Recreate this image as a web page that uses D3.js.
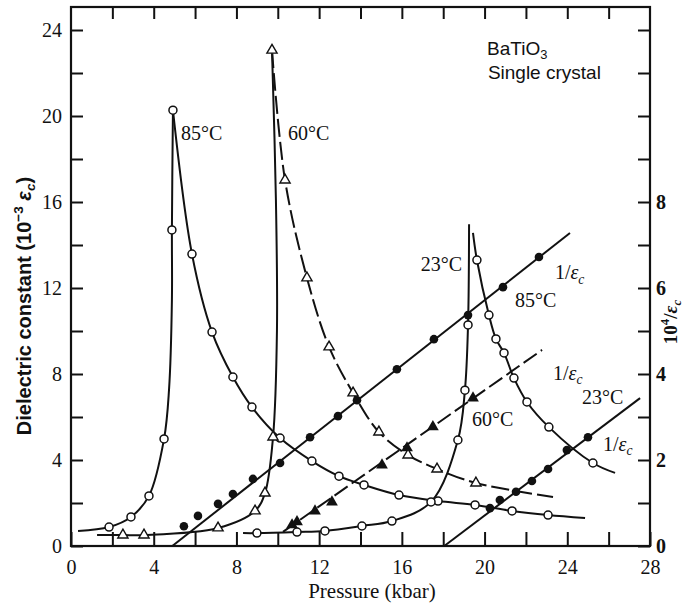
<!DOCTYPE html>
<html>
<head>
<meta charset="utf-8">
<script src="https://cdn.jsdelivr.net/npm/d3@7"></script>
<style>
  body { margin: 0; background: #fff; }
  svg { display: block; }
  text { fill: #111; }
  .serif { font-family: "Liberation Serif", "DejaVu Serif", serif; }
  .sans { font-family: "Liberation Sans", Arial, sans-serif; }
</style>
</head>
<body>
<svg width="684" height="605"></svg>
<script>
// pressure (kbar), dielectric constant (10^-3 eps_c), flag: 1 = measured point with marker
var eps85Up = [[0.34,0.70,0],[1.84,0.88,1],[2.90,1.35,1],[3.77,2.33,1],[4.50,4.98,1],[4.74,7.26,0],[4.88,11.44,0],[4.88,14.7,1],[4.93,20.27,1]];
var eps85Down = [[4.93,20.27,0],[5.85,13.58,1],[6.82,9.95,1],[7.83,7.86,1],[8.75,6.46,1],[10.11,5.02,1],[11.65,3.95,1],[12.96,3.25,1],[14.17,2.84,1],[15.86,2.37,1],[17.75,2.09,1],[19.54,1.91,1],[21.33,1.63,1],[23.07,1.44,1],[24.86,1.30,0]];
var eps60Up = [[1.26,0.51,0],[2.51,0.51,1],[3.53,0.51,1],[7.11,0.84,1],[8.90,1.63,1],[9.38,2.46,1],[9.77,5.07,1],[9.96,10.04,0],[9.91,16.09,0],[9.72,23.06,1]];
var eps60Down = [[9.72,23.06,0],[10.35,17.02,1],[11.41,12.47,1],[12.48,9.26,1],[13.64,7.12,1],[14.89,5.30,1],[16.30,4.23,1],[17.70,3.58,1],[19.58,2.93,1],[23.31,2.28,0]];
var eps23Up = [[8.32,0.60,0],[8.99,0.60,1],[10.93,0.65,1],[12.28,0.70,1],[14.07,0.93,1],[15.52,1.16,1],[17.41,2.05,1],[18.71,4.93,1],[19.05,7.25,1],[19.20,10.28,1],[19.25,14.97,0]];
var eps23Down = [[19.44,14.56,0],[19.63,13.3,1],[20.21,10.74,1],[20.55,9.63,1],[20.94,8.98,1],[21.42,7.81,1],[22.05,6.70,1],[23.11,5.53,1],[25.24,3.86,1],[26.31,3.40,0]];

// reciprocal 10^4/eps_c (right axis): straight fits and measured points
var inv85Fit = [[4.90,0],[24.13,7.28]];
var inv85 = [[5.46,0.46],[6.14,0.70],[7.11,0.98],[7.83,1.21],[8.80,1.56],[10.11,1.93],[11.56,2.53],[12.91,3.02],[13.83,3.39],[15.76,4.11],[17.55,4.81],[19.20,5.37],[20.89,6.02],[22.63,6.72]];
var inv60Fit = [[10.25,0.33],[22.78,4.56]];
var inv60 = [[10.69,0.49],[10.93,0.56],[11.80,0.81],[12.62,1.02],[15.04,1.88],[16.25,2.28],[17.50,2.77],[19.44,3.44]];
var inv23Fit = [[18.05,0],[27.52,3.44]];
var inv23 = [[20.26,0.88],[20.74,1.07],[21.52,1.26],[22.29,1.51],[23.07,1.79],[23.98,2.23],[25.0,2.53]];

var xTicks = d3.range(0, 29, 2);
var yTicks = d3.range(0, 25, 2);
var rTicks = d3.range(0, 13, 1);

// annotations, placed in data units (p, left-axis value)
var recip = [["1/"], ["ε", "i"], ["c", "isub"]];
var notes = [
  {parts: [["85°C"]], p: 5.32, v: 18.87, a: "start"},
  {parts: [["60°C"]], p: 10.49, v: 18.87, a: "start"},
  {parts: [["23°C"]], p: 18.91, v: 12.78, a: "end"},
  {parts: recip, p: 23.4, v: 12.41, a: "start"},
  {parts: [["85°C"]], p: 21.47, v: 11.11, a: "start"},
  {parts: recip, p: 23.31, v: 7.72, a: "start"},
  {parts: [["60°C"]], p: 19.39, v: 5.58, a: "start"},
  {parts: [["23°C"]], p: 24.71, v: 6.6, a: "start"},
  {parts: recip, p: 25.73, v: 4.42, a: "start"}
];

var svg = d3.select("svg");
var yMax = 25.07;

var x = d3.scaleLinear().domain([0, 28]).range([71, 650]);
var y = d3.scaleLinear().domain([0, yMax]).range([546, 7]);
var yR = d3.scaleLinear().domain([0, yMax / 2]).range([546, 7]);

function rich(sel, parts, size) {
  var cur = 0;
  parts.forEach(function(pt) {
    var sub = pt[1] === "sub" || pt[1] === "isub";
    var want = sub ? 0.22 * size : pt[1] === "sup" ? -0.4 * size : 0;
    var ts = sel.append("tspan").text(pt[0]);
    if (want !== cur) ts.attr("dy", want - cur);
    cur = want;
    if (sub || pt[1] === "sup") ts.attr("font-size", size * 0.68);
    if (pt[1] === "i" || pt[1] === "isub") ts.attr("font-style", "italic");
  });
}

// axes
function styleAxis(g) {
  g.select(".domain").remove();
  g.selectAll(".tick line").attr("stroke", "#111").attr("stroke-width", 2);
  g.selectAll("text").attr("class", "serif").attr("font-size", 20).attr("fill", "#111");
}

svg.append("g").attr("transform", "translate(0,546)")
  .call(d3.axisBottom(x).tickValues(xTicks).tickSizeInner(-14).tickSizeOuter(0).tickPadding(14)
    .tickFormat(function(d) { return d % 4 === 0 ? d : ""; }))
  .call(styleAxis);

svg.append("g").attr("transform", "translate(0,7)")
  .call(d3.axisTop(x).tickValues(xTicks.slice(1, -1)).tickSizeInner(-12).tickSizeOuter(0).tickFormat(""))
  .call(styleAxis);

svg.append("g").attr("transform", "translate(71,0)")
  .call(d3.axisLeft(y).tickValues(yTicks).tickSizeInner(-12).tickSizeOuter(0).tickPadding(9)
    .tickFormat(function(d) { return d % 4 === 0 ? d : ""; }))
  .call(styleAxis);

svg.append("g").attr("transform", "translate(650,0)")
  .call(d3.axisRight(yR).tickValues(rTicks).tickSizeInner(-12).tickSizeOuter(0).tickPadding(6)
    .tickFormat(function(d) { return d % 2 === 0 && d <= 8 ? d : ""; }))
  .call(styleAxis)
  .selectAll("text").attr("font-weight", "bold");

svg.append("rect")
  .attr("x", x(0)).attr("y", y(yMax))
  .attr("width", x(28) - x(0)).attr("height", y(0) - y(yMax))
  .attr("fill", "none").attr("stroke", "#111").attr("stroke-width", 2.2);

// axis titles
var lt = svg.append("text").attr("class", "sans").attr("font-size", 20).attr("font-weight", "bold")
  .attr("text-anchor", "middle").attr("transform", "translate(31,306) rotate(-90)");
rich(lt, [["Dielectric constant (10"], ["−3", "sup"], [" "], ["ε", "i"], ["c", "isub"], [")"]], 20);

var rt = svg.append("text").attr("class", "serif").attr("font-size", 19).attr("font-weight", "bold")
  .attr("text-anchor", "middle").attr("transform", "translate(677,322) rotate(-90)");
rich(rt, [["10"], ["4", "sup"], ["/"], ["ε", "i"], ["c", "isub"]], 19);

svg.append("text").attr("class", "serif").attr("font-size", 21)
  .attr("text-anchor", "middle").attr("x", 372).attr("y", 598).text("Pressure (kbar)");

var bt = svg.append("text").attr("class", "sans").attr("font-size", 19)
  .attr("x", x(20.12)).attr("y", y(22.83));
rich(bt, [["BaTiO"], ["3", "sub"]], 19);
svg.append("text").attr("class", "sans").attr("font-size", 19)
  .attr("x", x(20.16)).attr("y", y(21.71)).text("Single crystal");

// curves
var curve = d3.line()
  .x(function(d) { return x(d[0]); })
  .y(function(d) { return y(d[1]); })
  .curve(d3.curveCatmullRom.alpha(0.5));

var straight = d3.line()
  .x(function(d) { return x(d[0]); })
  .y(function(d) { return yR(d[1]); });

var plot = svg.append("g").attr("fill", "none").attr("stroke", "#111").attr("stroke-width", 2);

[eps85Up, eps85Down, eps60Up, eps23Up, eps23Down].forEach(function(s) {
  plot.append("path").attr("d", curve(s));
});
plot.append("path").attr("d", curve(eps60Down)).attr("stroke-dasharray", "18,5");

plot.append("path").attr("d", straight(inv85Fit));
plot.append("path").attr("d", straight(inv60Fit)).attr("stroke-dasharray", "16,5");
plot.append("path").attr("d", straight(inv23Fit));

// markers
function marked(s) { return s.filter(function(d) { return d[2] === 1; }); }

var openCircles = marked(eps85Up).concat(marked(eps85Down), marked(eps23Up), marked(eps23Down));
var openTris = marked(eps60Up).concat(marked(eps60Down));
var tri = d3.symbol().type(d3.symbolTriangle);

svg.append("g").selectAll("circle").data(inv85.concat(inv23)).join("circle")
  .attr("cx", function(d) { return x(d[0]); })
  .attr("cy", function(d) { return yR(d[1]); })
  .attr("r", 4.3).attr("fill", "#111");

svg.append("g").selectAll("path").data(inv60).join("path")
  .attr("transform", function(d) { return "translate(" + x(d[0]) + "," + yR(d[1]) + ")"; })
  .attr("d", tri.size(60)).attr("fill", "#111");

svg.append("g").selectAll("circle").data(openCircles).join("circle")
  .attr("cx", function(d) { return x(d[0]); })
  .attr("cy", function(d) { return y(d[1]); })
  .attr("r", 4).attr("fill", "#fff").attr("stroke", "#111").attr("stroke-width", 1.5);

svg.append("g").selectAll("path").data(openTris).join("path")
  .attr("transform", function(d) { return "translate(" + x(d[0]) + "," + y(d[1]) + ")"; })
  .attr("d", tri.size(45)).attr("fill", "#fff").attr("stroke", "#111").attr("stroke-width", 1.4);

// annotations
notes.forEach(function(n) {
  var t = svg.append("text").attr("class", "serif").attr("font-size", 20)
    .attr("text-anchor", n.a).attr("x", x(n.p)).attr("y", y(n.v));
  rich(t, n.parts, 20);
});
</script>
</body>
</html>
